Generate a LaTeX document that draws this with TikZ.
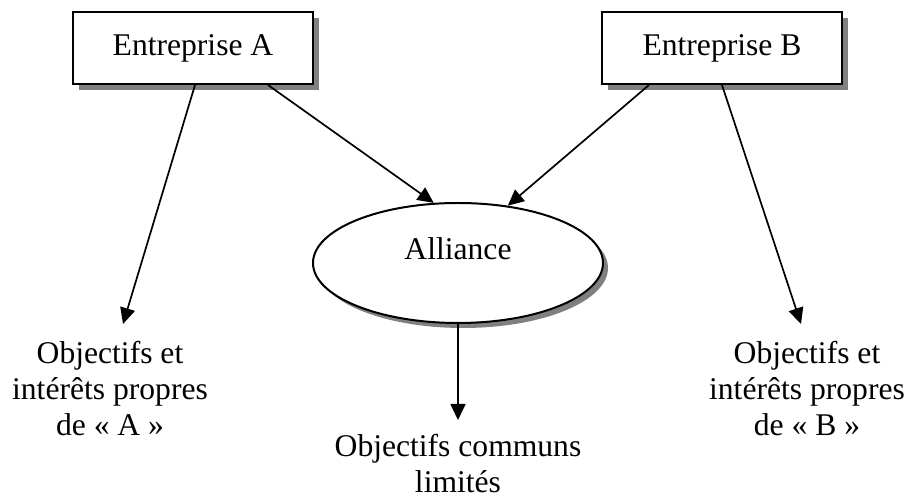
\documentclass[tikz,border=0pt]{standalone}
\usepackage{fontspec}
\setmainfont{Liberation Serif}
\usetikzlibrary{arrows.meta,shapes.geometric,shadows}

\begin{document}
\begin{tikzpicture}[x=0.5pt,y=-0.5pt,
  every node/.style={font=\fontsize{15.8pt}{18pt}\selectfont},
  firm/.style={draw,line width=1pt,fill=white,minimum width=120pt,minimum height=36pt,
    drop shadow={shadow xshift=3pt,shadow yshift=-3pt,fill=gray,opacity=1}},
  alli/.style={draw,ellipse,line width=1pt,fill=white,minimum width=145pt,minimum height=60pt,
    text height=11pt,text depth=14pt,
    drop shadow={shadow xshift=2.5pt,shadow yshift=-2.5pt,fill=gray,opacity=1}},
  goal/.style={align=center,anchor=north,inner sep=8.5pt},
  arr/.style={line width=0.85pt,-{Triangle[length=8pt,width=7.5pt]}}]
\useasboundingbox (0,0) rectangle (907,497);
\node[firm] (A) at (193,48) {Entreprise A};
\node[firm] (B) at (722,48) {Entreprise B};
\node[alli] (Alliance) at (458,263) {Alliance};
\node[goal] (objA) at (110,324) {Objectifs et\\intérêts propres\\de « A »};
\node[goal] (objB) at (807,324) {Objectifs et\\intérêts propres\\de « B »};
\node[goal,inner sep=7pt] (common) at (458,420) {Objectifs communs\\limités};

\draw[arr] ([xshift=1pt]A.south) -- ([xshift=6.5pt]objA.north);
\draw[arr] ([xshift=-23pt]A.south east) -- (Alliance.112);
\draw[arr] ([xshift=24pt]B.south west) -- (Alliance.49);
\draw[arr] (B.south) -- ([xshift=-3pt]objB.north);
\draw[arr] (Alliance.south) -- (common.north);
\end{tikzpicture}
\end{document}
